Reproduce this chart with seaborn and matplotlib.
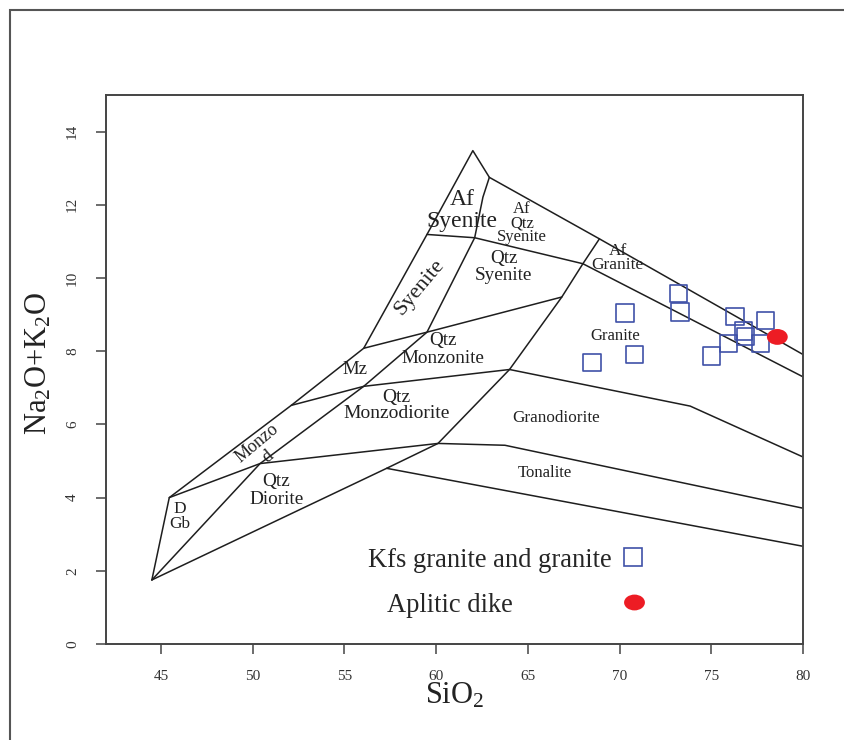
import pandas as pd
import seaborn as sns
import matplotlib.pyplot as plt
from matplotlib.path import Path
from matplotlib.patches import Rectangle
from matplotlib.lines import Line2D
from matplotlib.transforms import Affine2D

# field boundaries of the plutonic TAS diagram (SiO2, Na2O+K2O)
outer_x = [44.5, 45.45, 52.1, 56.05, 59.5, 62.0, 62.9, 68.9, 80.0]
outer_y = [1.75, 4.0, 6.52, 8.08, 11.19, 13.48, 12.75, 11.07, 7.91]
base_x = [44.5, 57.3, 60.1, 64.0, 66.85, 68.0, 68.9]
base_y = [1.75, 4.8, 5.48, 7.5, 9.48, 10.39, 11.07]
diag_x = [44.5, 50.4, 56.05, 59.5, 62.1, 62.55, 62.9]
diag_y = [1.75, 4.93, 7.04, 8.52, 11.1, 12.21, 12.75]
tonalite_top_x = [45.45, 50.4, 60.1, 63.75, 80.0]
tonalite_top_y = [4.0, 4.93, 5.48, 5.43, 3.71]
granodiorite_top_x = [52.1, 56.05, 64.0, 73.85, 80.0]
granodiorite_top_y = [6.52, 7.04, 7.5, 6.5, 5.11]
monzonite_top_x = [56.05, 59.5, 66.85]
monzonite_top_y = [8.08, 8.52, 9.48]
granite_top_x = [59.5, 62.1, 68.0, 80.0]
granite_top_y = [11.19, 11.1, 10.39, 7.3]
tonalite_base_x = [57.3, 80.0]
tonalite_base_y = [4.8, 2.67]

# samples
granite_sio2 = [73.2, 73.3, 70.3, 70.8, 68.5, 76.3, 77.95, 76.75, 76.85, 75.95, 77.7, 75.0]
granite_alk = [9.57, 9.07, 9.04, 7.91, 7.7, 8.95, 8.84, 8.55, 8.4, 8.22, 8.21, 7.87]
dike_sio2 = [78.6]
dike_alk = [8.39]

# field names
field_names = ["Af\nSyenite", "Af\nQtz\nSyenite", "Qtz\nSyenite", "Syenite", "Af\nGranite",
               "Granite", "Qtz\nMonzonite", "Mz", "Qtz\nMonzodiorite", "Monzo\nd",
               "Qtz\nDiorite", "D\nGb", "Granodiorite", "Tonalite"]
field_x = [61.4, 64.67, 63.69, 59.11, 69.9, 69.78, 60.38, 55.57, 57.84, 50.53, 51.3, 46.03, 66.52, 65.92]
field_y = [11.85, 11.5, 10.3, 9.75, 10.55, 8.41, 8.05, 7.5, 6.51, 5.29, 4.2, 3.49, 6.17, 4.67]
field_size = [17, 12, 13.8, 16, 12.5, 12, 13.8, 13.5, 14, 13, 13.9, 12.4, 12.3, 12]
field_rot = [0, 0, 0, 50, 0, 0, 0, 0, 0, 40, 0, 0, 0, 0]
field_spacing = [1.04, 0.85, 1.01, 1.0, 0.87, 1.0, 1.04, 1.0, 0.96, 1.05, 1.04, 0.93, 1.0, 1.0]

lines = [(outer_x, outer_y), (base_x, base_y), (diag_x, diag_y),
         (tonalite_top_x, tonalite_top_y), (granodiorite_top_x, granodiorite_top_y),
         (monzonite_top_x, monzonite_top_y), (granite_top_x, granite_top_y),
         (tonalite_base_x, tonalite_base_y)]
frames = []
for i, (lx, ly) in enumerate(lines):
    frames.append(pd.DataFrame({"sio2": lx, "alk": ly, "line": i}))
bounds = pd.concat(frames, ignore_index=True)

sns.set_theme(style="white")
plt.rcParams['font.family'] = ['Liberation Serif', 'DejaVu Serif']
plt.rcParams['mathtext.fontset'] = 'custom'
plt.rcParams['mathtext.rm'] = 'Liberation Serif'
plt.rcParams['mathtext.default'] = 'regular'

blue = "#3f51a8"
red = "#ed1c24"
ellipse = Affine2D().scale(1.0, 0.76).transform_path(Path.unit_circle())

fig = plt.figure(figsize=(8.45, 7.40), dpi=100)
ax = fig.add_axes([106 / 845, 1 - 644 / 740, 697 / 845, 549 / 740])

sns.lineplot(data=bounds, x="sio2", y="alk", units="line", estimator=None, sort=False,
             color="#1e1e1e", lw=1.1, ax=ax, legend=False)

for name, fx, fy, fs, rot, sp in zip(field_names, field_x, field_y, field_size, field_rot, field_spacing):
    ax.text(fx, fy, name, ha="center", va="center", fontsize=fs, rotation=rot,
            linespacing=sp, color="#222222", rotation_mode="anchor")

sns.scatterplot(x=granite_sio2, y=granite_alk, marker="s", s=155, facecolor="none",
                edgecolor=blue, linewidth=1.2, ax=ax, zorder=3)
sns.scatterplot(x=dike_sio2, y=dike_alk, marker=ellipse, s=225, color=red,
                edgecolor="none", ax=ax, zorder=4)

ax.set_xlim(42, 80)
ax.set_ylim(0, 15)
ax.set_xticks([45, 50, 55, 60, 65, 70, 75, 80])
ax.set_yticks([0, 2, 4, 6, 8, 10, 12, 14])
ax.tick_params(axis="both", direction="out", length=7.5, width=1.1, color="#444444",
               labelsize=11, labelcolor="#333333", pad=11, bottom=True, left=True)
ax.tick_params(axis="y", labelrotation=90, pad=12)
for lab in ax.get_yticklabels():
    lab.set_va("center")
for sp_ in ax.spines.values():
    sp_.set_color("#444444")
    sp_.set_linewidth(1.4)

ax.set_xlabel("SiO$_2$", fontsize=22, color="#222222")
ax.set_ylabel("Na$_2$O+K$_2$O", fontsize=22, color="#222222")
ax.xaxis.set_label_coords(0.5, -0.068)
ax.yaxis.set_label_coords(-0.076, 0.51)

sq = Line2D([], [], marker="s", ls="", mfc="none", mec=blue, mew=1.2, ms=12.4)
dot = Line2D([], [], marker=ellipse, ls="", mfc=red, mec="none", ms=15)
leg1 = ax.legend([sq], ["Kfs granite and granite"], loc="center left",
                 bbox_to_anchor=(0.3763, 0.153), markerfirst=False, frameon=False,
                 fontsize=19.1, handlelength=0.8, handletextpad=0.38,
                 borderpad=0, borderaxespad=0)
ax.add_artist(leg1)
ax.legend([dot], ["Aplitic dike"], loc="center left",
          bbox_to_anchor=(0.4027, 0.071), markerfirst=False, frameon=False,
          fontsize=19.1, handlelength=0.8, handletextpad=4.2,
          borderpad=0, borderaxespad=0)

fig.add_artist(Rectangle((10 / 845, -0.05), 1.2, 1.05 - 10 / 740, transform=fig.transFigure,
                         fill=False, ec="#555555", lw=1.5, clip_on=False))

fig.savefig("out.png", dpi=100)
